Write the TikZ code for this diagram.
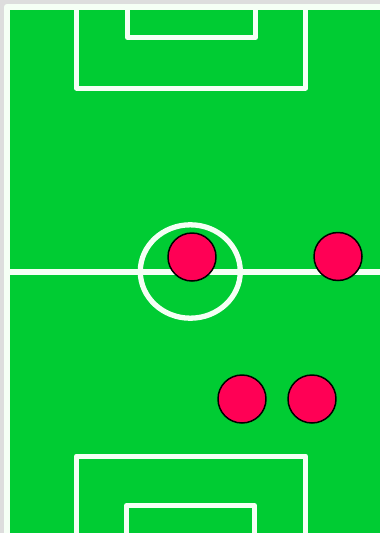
\documentclass[tikz,border=0pt]{standalone}
\usepackage{tikz}
\definecolor{pitch}{RGB}{0,204,51}
\definecolor{shirt}{RGB}{255,0,85}
\definecolor{chalk}{RGB}{245,255,245}
\definecolor{frame}{RGB}{221,221,221}

\begin{document}
\begin{tikzpicture}[x=1pt, y=-1pt, line join=round,
  pitchline/.style={draw=chalk, line width=5pt},
  player/.style={circle, draw=black, line width=1.5pt, fill=shirt, minimum size=48pt, inner sep=0pt}]
  % Background and clip
  \fill[frame] (0,0) rectangle (380,533);
  \useasboundingbox (0,0) rectangle (380,533);
  \clip (0,0) rectangle (380,533);
  % Field with touch lines
  \fill[pitch] (7,7) rectangle (400,560);
  \draw[draw=chalk, line width=6.5pt] (7,7) rectangle (400,560);
  % Top penalty area and goal area
  \draw[pitchline] (76.5,5) -- (76.5,88) -- (305.5,88) -- (305.5,5);
  \draw[pitchline] (127.5,5) -- (127.5,37.5) -- (255.5,37.5) -- (255.5,5);
  % Halfway line and centre circle
  \coordinate (C) at (190.3,271.5);
  \draw[pitchline, line width=6pt] (7,271.5) -- (400,271.5);
  \draw[pitchline, line width=5.3pt] (C) ellipse [x radius=50, y radius=46.7];
  % Bottom penalty area and goal area
  \draw[pitchline] (76.5,540) -- (76.5,456) -- (305.5,456) -- (305.5,540);
  \draw[pitchline] (126.5,540) -- (126.5,505.5) -- (254.5,505.5) -- (254.5,540);
  % Players
  \node[player] (p1) at (192,257) {};
  \node[player] (p2) at (338,256.5) {};
  \node[player] (p3) at (242,399) {};
  \node[player] (p4) at (312,399) {};
\end{tikzpicture}
\end{document}
